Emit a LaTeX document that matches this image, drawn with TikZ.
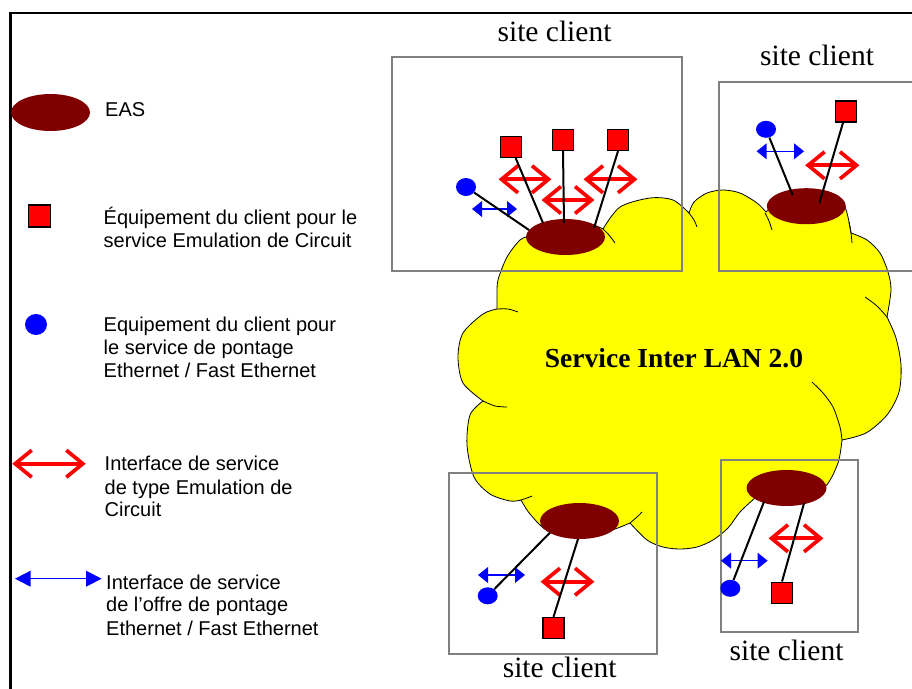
\documentclass[tikz,border=0pt]{standalone}
\usepackage{fontspec}
\setmainfont{Liberation Serif}
\newfontfamily\arialf{Liberation Sans}
\usetikzlibrary{shapes.geometric}
\definecolor{easred}{RGB}{128,0,0}
\definecolor{boxgray}{RGB}{128,128,128}
\definecolor{cloudy}{RGB}{255,255,0}
\tikzset{
  eas/.style={ellipse, fill=easred, minimum width=79pt, minimum height=36pt, inner sep=0pt},
  equip/.style={rectangle, draw=black, line width=1.3pt, fill=red, minimum size=21pt, inner sep=0pt},
  bdot/.style={ellipse, fill=blue, minimum width=20pt, minimum height=17pt, inner sep=0pt},
  link/.style={draw=black, line width=2pt},
  sitebox/.style={draw=boxgray, line width=2pt},
  cloudline/.style={draw=black, line width=0.8pt},
  lbl/.style={font=\arialf\fontsize{20}{23}\selectfont, anchor=base west, inner sep=0pt},
  sitelbl/.style={font=\fontsize{29.5}{32}\selectfont, anchor=base, inner sep=0pt},
  pics/redarr/.style={code={
    \draw[red, line width=3.7pt] (-#1+2,0) -- (#1-2,0);
    \draw[red, line width=3.7pt, line join=miter] (-#1+19,-13.5) -- (-#1+2.5,0) -- (-#1+19,13.5);
    \draw[red, line width=3.7pt, line join=miter] (#1-19,-13.5) -- (#1-2.5,0) -- (#1-19,13.5);
  }},
  pics/bluearr/.style 2 args={code={
    \draw[blue, line width=1.3pt] (-#1+#2-1,0) -- (#1-#2+1,0);
    \fill[blue] (-#1,0) -- (-#1+#2,-8) -- (-#1+#2,8) -- cycle;
    \fill[blue] (#1,0) -- (#1-#2,-8) -- (#1-#2,8) -- cycle;
  }},
}
\begin{document}
\begin{tikzpicture}[x=1pt,y=-1pt]
\useasboundingbox (0,0) rectangle (912,688);
% outer frame
\draw[line width=2.3pt] (10.5,700) -- (10.5,13) -- (930,13);

% cloud
\path[fill=cloudy, cloudline]
  plot[smooth] coordinates {(530,236) (545,224) (585,223) (603,229)}
  -- plot[smooth] coordinates {(603,229) (620,207) (650,198) (673,200) (689,213)}
  -- plot[smooth] coordinates {(689,213) (694,202) (707,193) (723,190) (740,193) (757,203) (766,212)}
  -- plot[smooth] coordinates {(766,212) (790,195) (825,195) (844,205) (851,233)}
  -- plot[smooth] coordinates {(851,233) (867,240) (880,253) (888,272) (891,290) (887,317)}
  -- plot[smooth] coordinates {(887,317) (896,338) (901,365) (899,392) (887,415) (866,433) (842,440)}
  -- plot[smooth] coordinates {(842,440) (838,463) (825,487) (800,500) (755,498)}
  -- plot[smooth] coordinates {(755,498) (740,512) (728,528) (713,540) (697,547) (680,549) (663,547) (647,540) (630,523)}
  -- plot[smooth] coordinates {(630,523) (612,530) (580,538) (548,531) (530,514) (521,500)}
  -- plot[smooth] coordinates {(521,500) (510,501) (490,494) (474,477) (467,445) (470,415) (483,401)}
  -- plot[smooth] coordinates {(483,401) (463,383) (458,357) (463,333) (483,314) (497,309)}
  -- plot[smooth] coordinates {(497,309) (497,295) (498,280) (507,257) (520,240) (530,236)}
  -- cycle;
% cloud inner arcs
\draw[cloudline] plot[smooth] coordinates {(603,229) (609,235) (615,243)};
\draw[cloudline] plot[smooth] coordinates {(689,213) (694,220) (697,227)};
\draw[cloudline] plot[smooth] coordinates {(765,213) (769,221) (772,230)};
\draw[cloudline] plot[smooth] coordinates {(849,222) (851,233) (852,243)};
\draw[cloudline] plot[smooth] coordinates {(865,297) (877,306) (887,317)};
\draw[cloudline] plot[smooth] coordinates {(812,382) (823,393) (833,407) (840,427) (842,440)};
\draw[cloudline] plot[smooth] coordinates {(642,512) (637,517) (630,523)};
\draw[cloudline] plot[smooth] coordinates {(532,496) (527,498) (521,500)};
\draw[cloudline] plot[smooth] coordinates {(483,401) (495,406) (507,407)};
\draw[cloudline] plot[smooth] coordinates {(497,309) (508,309) (518,312)};

% site boxes
\draw[sitebox] (392,57.3) rectangle (682,271);
\draw[sitebox] (719,81.7) rectangle (930,271);
\draw[sitebox] (449.3,473.3) rectangle (656.7,654);
\draw[sitebox] (720.7,460) rectangle (857.7,631.7);

% labels
\node[sitelbl] (s1lbl) at (554.5,41.5) {site client};
\node[sitelbl] (s2lbl) at (817,65) {site client};
\node[sitelbl] (s3lbl) at (559.7,677) {site client};
\node[sitelbl] (s4lbl) at (786.5,660.7) {site client};
\node[font=\bfseries\fontsize{27.5}{30}\selectfont, anchor=base, inner sep=0pt] (title) at (674,367.7) {Service Inter LAN 2.0};

% EAS
\node[eas] (eas1) at (565.5,237) {};
\node[eas] (eas2) at (806.3,206.2) {};
\node[eas] (eas3) at (579.5,521) {};
\node[eas, minimum width=80pt] (eas4) at (786.5,488) {};

% interface arrows
\pic (ra1) at (525,179.3) {redarr=26};
\pic (ra2) at (568,200) {redarr=26};
\pic (ra3) at (610.5,179.3) {redarr=26.5};
\pic (ra4) at (832.3,165.3) {redarr=26.7};
\pic (ra5) at (567.5,581.7) {redarr=26.5};
\pic (ra6) at (796,538.3) {redarr=27};
\pic (ba1) at (494.5,209) {bluearr={22.5}{10}};
\pic (ba2) at (780.3,151.3) {bluearr={23.7}{10}};
\pic (ba3) at (501.5,575) {bluearr={23.5}{10}};
\pic (ba4) at (744.3,560.7) {bluearr={23.3}{10}};

% devices
\node[equip] (sq1) at (511,147) {};
\node[equip] (sq2) at (563,140) {};
\node[equip] (sq3) at (618,140) {};
\node[equip] (sq4) at (846.3,111.5) {};
\node[equip] (sq5) at (553.5,628) {};
\node[equip] (sq6) at (782,592.7) {};
\node[bdot, minimum height=18pt] (d1) at (466,187) {};
\node[bdot] (d2) at (766,129.3) {};
\node[bdot] (d3) at (487.7,595.8) {};
\node[bdot] (d4) at (730.3,588.3) {};

% link endpoints inside EAS
\coordinate (e1a) at (543,223);
\coordinate (e1b) at (564,223);
\coordinate (e1c) at (594,228);
\coordinate (e1d) at (529,230);
\coordinate (e2a) at (819.3,203.3);
\coordinate (e2b) at (792.7,195);
\coordinate (e3a) at (550,532.7);
\coordinate (e3b) at (578,539);
\coordinate (e4a) at (764,501.7);
\coordinate (e4b) at (804,503.3);

\draw[link] (sq1) -- (e1a);
\draw[link] (sq2.south) -- (e1b);
\draw[link] (sq3.south) -- (e1c);
\draw[link] (d1) -- (e1d);
\draw[link] (sq4) -- (e2a);
\draw[link] (d2) -- (e2b);
\draw[link] (d3) -- (e3a);
\draw[link] (sq5.north) -- (e3b);
\draw[link] (d4) -- (e4a);
\draw[link] (sq6.north) -- (e4b);

% legend
\node[eas, minimum height=37pt] (leas) at (50.5,112.5) {};
\node[lbl] (t1) at (105,116.7) {EAS};
\node[equip, minimum size=22pt] (lsq) at (39.5,216) {};
\node[lbl] (t2a) at (103.5,224.3) {Équipement du client pour le};
\node[lbl] (t2b) at (103.5,247.3) {service Emulation de Circuit};
\node[bdot, minimum width=22pt, minimum height=21pt] (ldot) at (36,324.5) {};
\node[lbl] (t3a) at (103.5,331.5) {Equipement du client pour};
\node[lbl] (t3b) at (103.5,354.5) {le service de pontage};
\node[lbl] (t3c) at (103.5,377.5) {Ethernet / Fast Ethernet};
\pic (lra) at (49,463.7) {redarr=36.3};
\node[lbl] (t4a) at (104.5,470.7) {Interface de service};
\node[lbl] (t4b) at (104.5,494) {de type Emulation de};
\node[lbl] (t4c) at (104.5,516.7) {Circuit};
\pic (lba) at (58.3,578.7) {bluearr={43.3}{15.5}};
\node[lbl] (t5a) at (106,589) {Interface de service};
\node[lbl] (t5b) at (106,611.7) {de l’offre de pontage};
\node[lbl] (t5c) at (106,635) {Ethernet / Fast Ethernet};
\end{tikzpicture}
\end{document}
